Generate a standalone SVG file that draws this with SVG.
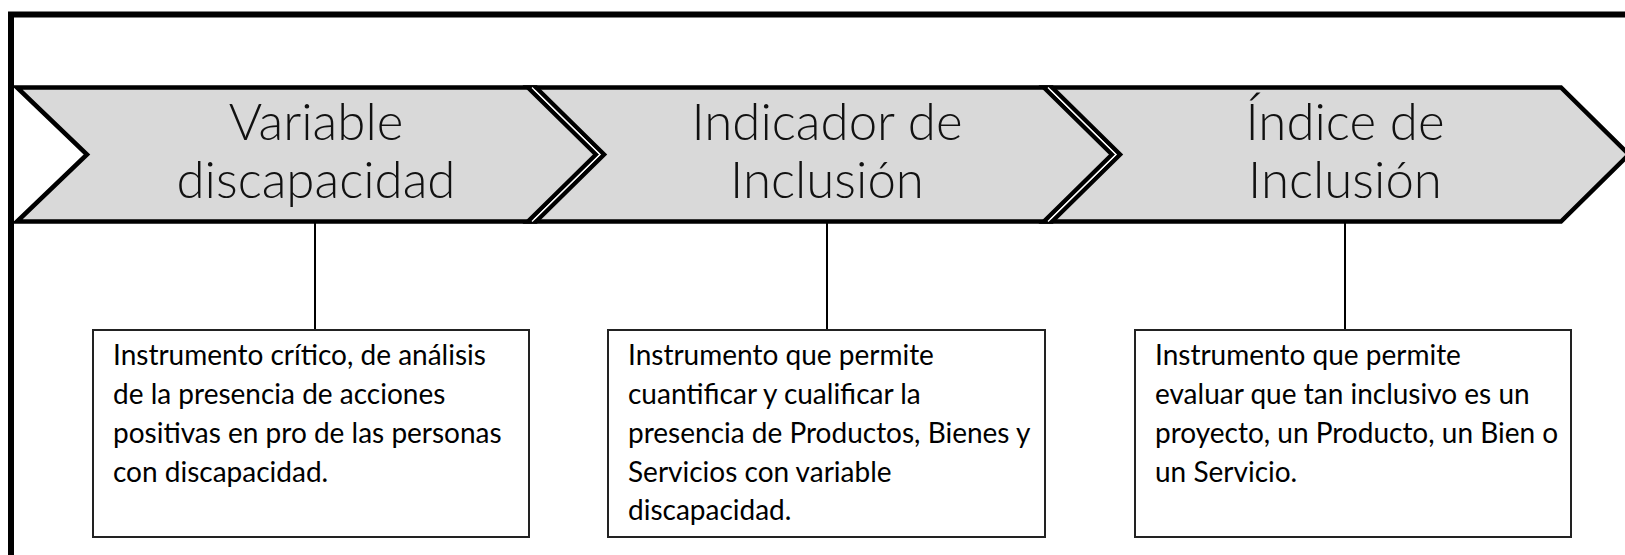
<svg xmlns="http://www.w3.org/2000/svg" width="1625" height="555" viewBox="0 0 1625 555">
<style>
.frame{fill:none;stroke:#000;stroke-width:6}
.chev{fill:#d9d9d9;stroke:#000;stroke-width:4.5;stroke-linejoin:miter}
.seam{fill:none;stroke:#000;stroke-width:4.5;stroke-linejoin:miter}
.gap{fill:none;stroke:#fff;stroke-width:1.3;stroke-linejoin:miter}
.title{font-family:Lato,"Liberation Sans",sans-serif;font-weight:300;font-size:51px;fill:#111;text-anchor:middle}
.box{fill:#fff;stroke:#222;stroke-width:2}
.body{font-family:Lato,"Liberation Sans",sans-serif;font-size:28px;fill:#000}
.conn{stroke:#000;stroke-width:2;fill:none}
</style>
<rect width="1625" height="555" fill="#fff"/>
<path class="frame" d="M11,555 V14.5 H1625"/>

<g id="node-variable">
<polygon class="chev" points="17,87.5 536,87.5 604,154.5 536,221.5 17,221.5 87,154.5"/>
<text class="title" x="316" y="140">Variable</text>
<text class="title" x="316" y="198">discapacidad</text>
</g>
<g id="node-indicador">
<polygon class="chev" points="528,87.5 1052,87.5 1120,154.5 1052,221.5 528,221.5 596,154.5"/>
<text class="title" x="827" y="140">Indicador de</text>
<text class="title" x="827" y="198">Inclusión</text>
</g>
<g id="node-indice">
<polygon class="chev" points="1044,87.5 1561,87.5 1629,154.5 1561,221.5 1044,221.5 1112,154.5"/>
<text class="title" x="1345" y="140">Índice de</text>
<text class="title" x="1345" y="198">Inclusión</text>
</g>
<g id="chevron-seams">
<polyline class="seam" points="536,87.5 604,154.5 536,221.5"/>
<polyline class="gap" points="532,87.5 600,154.5 532,221.5"/>
<polyline class="seam" points="1052,87.5 1120,154.5 1052,221.5"/>
<polyline class="gap" points="1048,87.5 1116,154.5 1048,221.5"/>
</g>

<g id="connectors">
<line class="conn" x1="315" y1="223" x2="315" y2="330"/>
<line class="conn" x1="827" y1="223" x2="827" y2="330"/>
<line class="conn" x1="1345" y1="223" x2="1345" y2="330"/>
</g>

<g id="box-variable">
<rect class="box" x="93" y="330" width="436" height="207"/>
<text class="body" x="113" y="365">Instrumento crítico, de análisis</text>
<text class="body" x="113" y="404">de la presencia de acciones</text>
<text class="body" x="113" y="443">positivas en pro de las personas</text>
<text class="body" x="113" y="482">con discapacidad.</text>
</g>
<g id="box-indicador">
<rect class="box" x="608" y="330" width="437" height="207"/>
<text class="body" x="628" y="365">Instrumento que permite</text>
<text class="body" x="628" y="404">cuantificar y cualificar la</text>
<text class="body" x="628" y="443">presencia de Productos, Bienes y</text>
<text class="body" x="628" y="482">Servicios con variable</text>
<text class="body" x="628" y="520">discapacidad.</text>
</g>
<g id="box-indice">
<rect class="box" x="1135" y="330" width="436" height="207"/>
<text class="body" x="1155" y="365">Instrumento que permite</text>
<text class="body" x="1155" y="404">evaluar que tan inclusivo es un</text>
<text class="body" x="1155" y="443">proyecto, un Producto, un Bien o</text>
<text class="body" x="1155" y="482">un Servicio.</text>
</g>
</svg>
